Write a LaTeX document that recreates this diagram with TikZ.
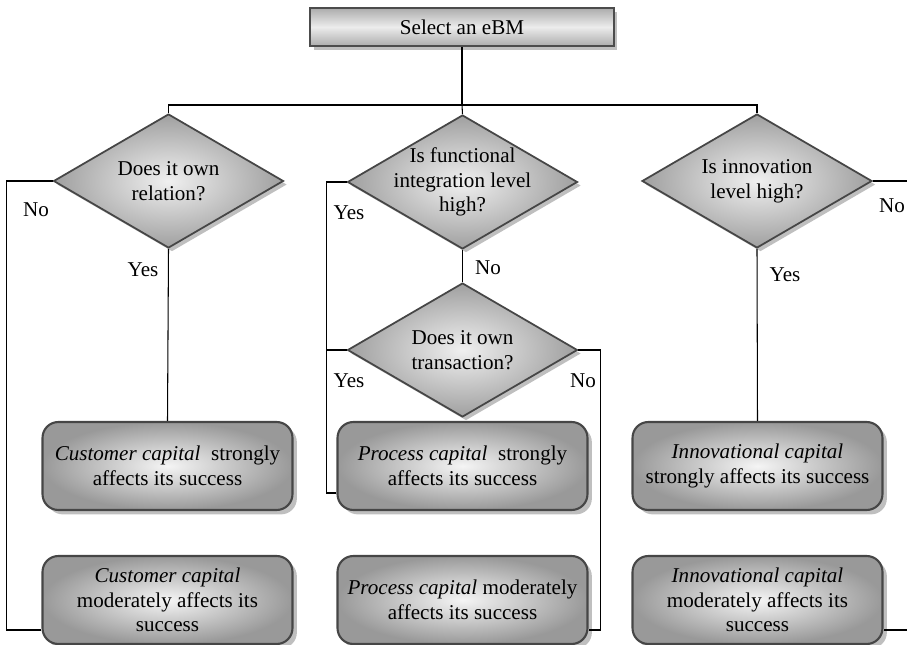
\documentclass[tikz,border=0pt]{standalone}
\usepackage{fontspec}
\setmainfont{Liberation Serif}
\usetikzlibrary{shapes.geometric,shadows}
\tikzset{
  startbox/.style={draw=gray!60!black, line width=1pt, top color=gray!65, bottom color=gray!65, middle color=gray!15,
    minimum width=6.08cm, minimum height=0.76cm, font=\fontsize{12}{14}\selectfont,
    drop shadow={shadow xshift=2pt, shadow yshift=-2pt}},
  askbox/.style={diamond, draw=gray!55!black, line width=1pt, shading=radial, inner color=gray!12, outer color=gray!75,
    minimum width=4.6cm, minimum height=2.68cm, inner sep=0pt,
    drop shadow={shadow xshift=2pt, shadow yshift=-2pt}},
  asktext/.style={align=center, font=\fontsize{12}{14}\selectfont},
  capbox/.style={draw=gray!55!black, line width=1.2pt, rounded corners=9pt, shading=radial, inner color=gray!8, outer color=gray!80,
    minimum width=5cm, minimum height=1.76cm, align=center, font=\fontsize{12}{14}\selectfont,
    drop shadow={shadow xshift=2.5pt, shadow yshift=-2.5pt}},
  lbl/.style={font=\fontsize{12}{14}\selectfont, inner sep=0pt},
  link/.style={line width=0.6pt}
}
\begin{document}
\begin{tikzpicture}[x=0.02cm, y=-0.02cm]
    \useasboundingbox (0,0) rectangle (907,645);
    % top and questions
    \node[startbox] (top) at (462,27) {Select an eBM};
    \node[askbox, label={[asktext]center:Does it own\\relation?}] (d1) at (168.5,181) {};
    \node[askbox, label={[asktext]center:Is functional\\integration level\\high?}] (d2) at (462.5,182) {};
    \node[askbox, label={[asktext]center:Is innovation\\level high?}] (d3) at (757,181) {};
    \node[askbox, label={[asktext]center:Does it own\\transaction?}] (d4) at (462.5,350) {};
    % results
    \node[capbox] (cs) at (167.5,466) {\textit{Customer capital}\ \ strongly\\affects its success};
    \node[capbox] (cm) at (167.5,600) {\textit{Customer capital}\\moderately affects its\\success};
    \node[capbox] (ps) at (462.5,466) {\textit{Process capital}\ \ strongly\\affects its success};
    \node[capbox] (pm) at (462.5,600) {\textit{Process capital} moderately\\affects its success};
    \node[capbox] (is) at (757.5,466) {\textit{Innovational capital}\\strongly affects its success};
    \node[capbox] (im) at (757.5,600) {\textit{Innovational capital}\\moderately affects its\\success};
    \coordinate (hub) at (462,105);
    \coordinate (lowy) at (0,630);
    \coordinate (psy) at (0,493);
    \coordinate (edge) at (912,181);
    % connectors
    \draw[link] (top) -- (hub);
    \draw[link] (d1.north) |- (hub) -| (d3.north);
    \draw[link] (hub) -- (d2.north);
    \draw[link] (d1.south) -- (cs.north);
    \draw[link] (d1.west) -- ++(-46,0) |- (cm.west |- lowy);
    \draw[link] (d2.south) -- (d4.north);
    \draw[link] (d2.west) -- ++(-20,0) |- (ps.west |- psy);
    \draw[link] (d4.west) -- ++(-20,0);
    \draw[link] (d4.east) -- ++(22,0) |- (pm.east |- lowy);
    \draw[link] (d3.south) -- (is.north);
    \draw[link] (d3.east) -- (edge) |- (im.east |- lowy);
    % answers
    \node[lbl] (n1) at (36,210) {No};
    \node[lbl] (y1) at (143,270) {Yes};
    \node[lbl] (y2) at (349,213) {Yes};
    \node[lbl] (n2) at (488,268) {No};
    \node[lbl] (y4) at (349,381) {Yes};
    \node[lbl] (n4) at (583,381) {No};
    \node[lbl] (n3) at (892,206) {No};
    \node[lbl] (y3) at (785,275) {Yes};
\end{tikzpicture}
\end{document}
